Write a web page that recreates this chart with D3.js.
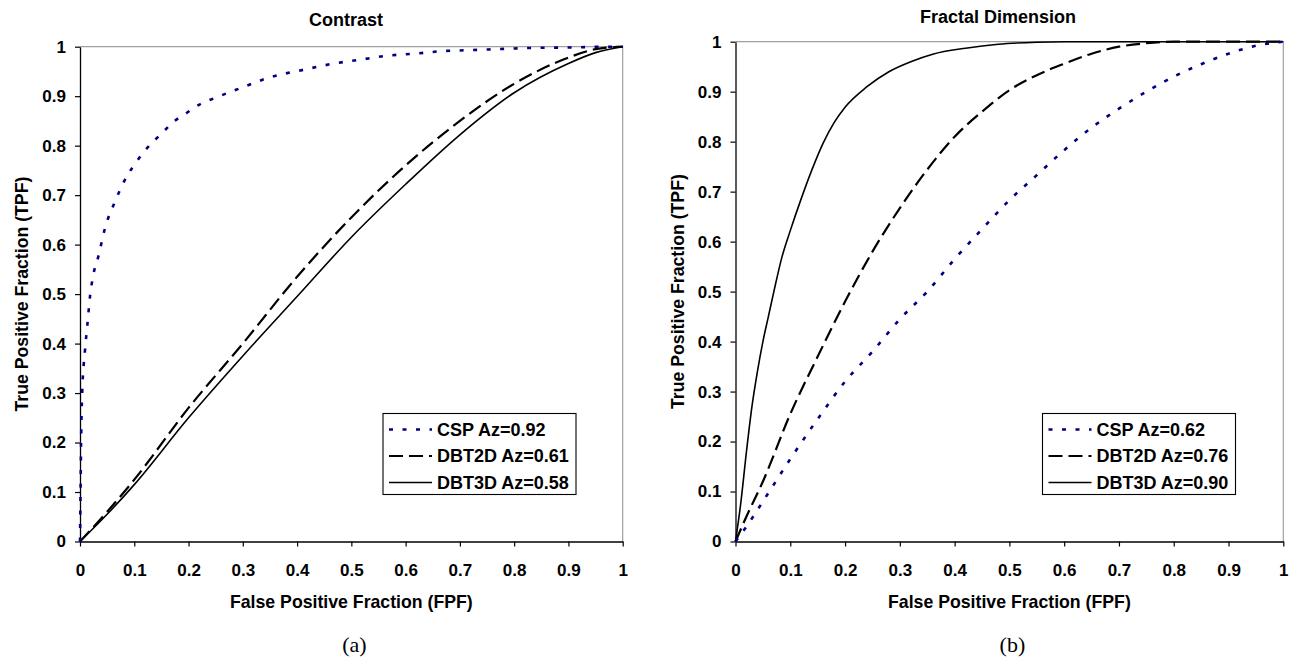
<!DOCTYPE html>
<html lang="en">
<head>
<meta charset="UTF-8">
<title>ROC curves - Contrast / Fractal Dimension</title>
<script src="https://d3js.org/d3.v7.min.js"></script>
<style>
  body { margin: 0; background: #fff; }
  svg text { font-family: "Liberation Sans", Arial, sans-serif; font-weight: bold; fill: #000; }
  .caption { font-family: "Liberation Serif", "Times New Roman", serif; font-weight: normal; }
</style>
</head>
<body>
<script>
// tick values, shared by both panels
const xTicks = [0, 0.1, 0.2, 0.3, 0.4, 0.5, 0.6, 0.7, 0.8, 0.9, 1];
const yTicks = [0, 0.1, 0.2, 0.3, 0.4, 0.5, 0.6, 0.7, 0.8, 0.9, 1];

// (a) Contrast — [FPF, TPF]
const contrastCSP = [
  [0, 0], [0.001, 0.1], [0.002, 0.2], [0.004, 0.3], [0.009, 0.384], [0.0135, 0.437],
  [0.0184, 0.495], [0.0246, 0.539], [0.0338, 0.576], [0.046, 0.633], [0.0645, 0.687],
  [0.0878, 0.741], [0.1032, 0.766], [0.118, 0.788], [0.135, 0.808], [0.1535, 0.828],
  [0.172, 0.848], [0.195, 0.865], [0.22, 0.883], [0.25, 0.897], [0.3, 0.918],
  [0.344, 0.936], [0.419, 0.955], [0.468, 0.966], [0.518, 0.974], [0.5675, 0.982],
  [0.618, 0.986], [0.667, 0.991], [0.716, 0.993], [0.767, 0.995], [0.816, 0.997],
  [0.866, 0.998], [0.915, 0.9985], [0.95, 1], [1, 1]
];
const contrastDBT2D = [
  [0, 0], [0.05, 0.06], [0.1, 0.125], [0.2, 0.27], [0.3, 0.4], [0.4, 0.535],
  [0.5, 0.655], [0.6, 0.76], [0.7, 0.85], [0.8, 0.925], [0.9, 0.978], [0.95, 0.995], [1, 1]
];
const contrastDBT3D = [
  [0, 0], [0.05, 0.055], [0.1, 0.115], [0.2, 0.25], [0.3, 0.375], [0.4, 0.495],
  [0.5, 0.615], [0.6, 0.722], [0.7, 0.822], [0.8, 0.907], [0.9, 0.966], [0.95, 0.988], [1, 1]
];

// (b) Fractal Dimension — [FPF, TPF]
const fractalCSP = [
  [0, 0], [0.02, 0.03], [0.05, 0.08], [0.1, 0.165], [0.15, 0.245], [0.2, 0.32],
  [0.25, 0.38], [0.3, 0.445], [0.35, 0.5], [0.4, 0.565], [0.45, 0.625], [0.5, 0.683],
  [0.55, 0.733], [0.6, 0.783], [0.65, 0.828], [0.7, 0.866], [0.75, 0.9], [0.8, 0.93],
  [0.85, 0.955], [0.9, 0.976], [0.95, 0.992], [1, 1]
];
const fractalDBT2D = [
  [0, 0], [0.02, 0.05], [0.05, 0.12], [0.1, 0.255], [0.15, 0.37], [0.2, 0.48],
  [0.25, 0.58], [0.3, 0.667], [0.35, 0.744], [0.4, 0.81], [0.45, 0.86], [0.5, 0.903],
  [0.55, 0.933], [0.6, 0.956], [0.65, 0.976], [0.7, 0.99], [0.75, 0.997], [0.8, 1], [1, 1]
];
const fractalDBT3D = [
  [0, 0], [0.01, 0.08], [0.02, 0.18], [0.03, 0.27], [0.04, 0.34], [0.05, 0.4],
  [0.06, 0.45], [0.07, 0.5], [0.085, 0.57], [0.1, 0.622], [0.12, 0.686], [0.14, 0.745],
  [0.16, 0.797], [0.18, 0.838], [0.2, 0.869], [0.24, 0.91], [0.28, 0.94], [0.32, 0.96],
  [0.36, 0.975], [0.42, 0.987], [0.48, 0.995], [0.55, 0.999], [0.6, 1], [1, 1]
];

const contrastLegend = ["CSP Az=0.92", "DBT2D Az=0.61", "DBT3D Az=0.58"];
const fractalLegend = ["CSP Az=0.62", "DBT2D Az=0.76", "DBT3D Az=0.90"];

// line look per series: CSP, DBT2D, DBT3D
const seriesStyle = [
  { color: "#000080", width: 2.6, dash: "4,9.5" },
  { color: "#000", width: 2.2, dash: "14,6" },
  { color: "#000", width: 1.6, dash: null }
];

const W = 1294, H = 658;
const svg = d3.select("body").append("svg")
  .attr("width", W)
  .attr("height", H);

function drawPanel(p) {
  const x = d3.scaleLinear().domain([0, 1]).range([p.left, p.right]);
  const y = d3.scaleLinear().domain([0, 1]).range([p.bottom, p.top]);
  const g = svg.append("g");

  // grey frame on top and right
  g.append("path")
    .attr("d", `M${p.left},${p.top}H${p.right}V${p.bottom}`)
    .attr("fill", "none")
    .attr("stroke", "#a0a0a0")
    .attr("stroke-width", 1.2);

  const xAxis = g.append("g")
    .attr("transform", `translate(0,${p.bottom})`)
    .call(d3.axisBottom(x).tickValues(xTicks).tickFormat(d => String(d))
      .tickSize(5).tickSizeOuter(0).tickPadding(17));
  const yAxis = g.append("g")
    .attr("transform", `translate(${p.left},0)`)
    .call(d3.axisLeft(y).tickValues(yTicks).tickFormat(d => String(d))
      .tickSize(5).tickSizeOuter(0).tickPadding(9));
  [xAxis, yAxis].forEach(a => {
    a.selectAll("text").style("font-size", "17px");
    a.select(".domain").attr("stroke", "#000").attr("stroke-width", 1.3);
    a.selectAll(".tick line").attr("stroke", "#000").attr("stroke-width", 1.2);
  });

  const line = d3.line()
    .x(d => x(d[0]))
    .y(d => y(d[1]))
    .curve(d3.curveMonotoneX);

  // draw solid first so dotted / dashed sit on top
  [2, 1, 0].forEach(i => {
    const s = seriesStyle[i];
    g.append("path")
      .datum(p.series[i])
      .attr("d", line)
      .attr("fill", "none")
      .attr("stroke", s.color)
      .attr("stroke-width", s.width)
      .attr("stroke-dasharray", s.dash);
  });

  // titles
  g.append("text")
    .attr("x", p.titleX).attr("y", p.titleY)
    .attr("text-anchor", "middle")
    .style("font-size", "18px")
    .text(p.title);
  g.append("text")
    .attr("x", (p.left + p.right) / 2).attr("y", 608)
    .attr("text-anchor", "middle")
    .style("font-size", "17.7px")
    .text("False Positive Fraction (FPF)");
  g.append("text")
    .attr("transform", `translate(${p.left - 52},${(p.top + p.bottom) / 2}) rotate(-90)`)
    .attr("text-anchor", "middle")
    .style("font-size", "17.7px")
    .text("True Positive Fraction (TPF)");
  g.append("text")
    .attr("class", "caption")
    .attr("x", (p.left + p.right) / 2 + 3).attr("y", 652)
    .attr("text-anchor", "middle")
    .style("font-size", "22px")
    .text(p.caption);

  // legend
  const lg = g.append("g").attr("transform", `translate(${p.legendX},413.5)`);
  lg.append("rect")
    .attr("width", 193).attr("height", 81)
    .attr("fill", "#fff")
    .attr("stroke", "#000")
    .attr("stroke-width", 1.1);
  p.legend.forEach((label, i) => {
    const s = seriesStyle[i];
    const ry = 16 + i * 26.5;
    lg.append("line")
      .attr("x1", 6).attr("x2", 49)
      .attr("y1", ry).attr("y2", ry)
      .attr("stroke", s.color)
      .attr("stroke-width", s.width)
      .attr("stroke-dasharray", s.dash);
    lg.append("text")
      .attr("x", 54).attr("y", ry)
      .attr("dy", "0.36em")
      .style("font-size", "18px")
      .text(label);
  });
}

drawPanel({
  left: 80, right: 622.7, top: 46.7, bottom: 541.5,
  title: "Contrast", titleX: 346, titleY: 26,
  caption: "(a)", legendX: 383,
  legend: contrastLegend,
  series: [contrastCSP, contrastDBT2D, contrastDBT3D]
});

drawPanel({
  left: 735.5, right: 1283.3, top: 41.7, bottom: 541.5,
  title: "Fractal Dimension", titleX: 998, titleY: 23,
  caption: "(b)", legendX: 1042.5,
  legend: fractalLegend,
  series: [fractalCSP, fractalDBT2D, fractalDBT3D]
});
</script>
</body>
</html>
